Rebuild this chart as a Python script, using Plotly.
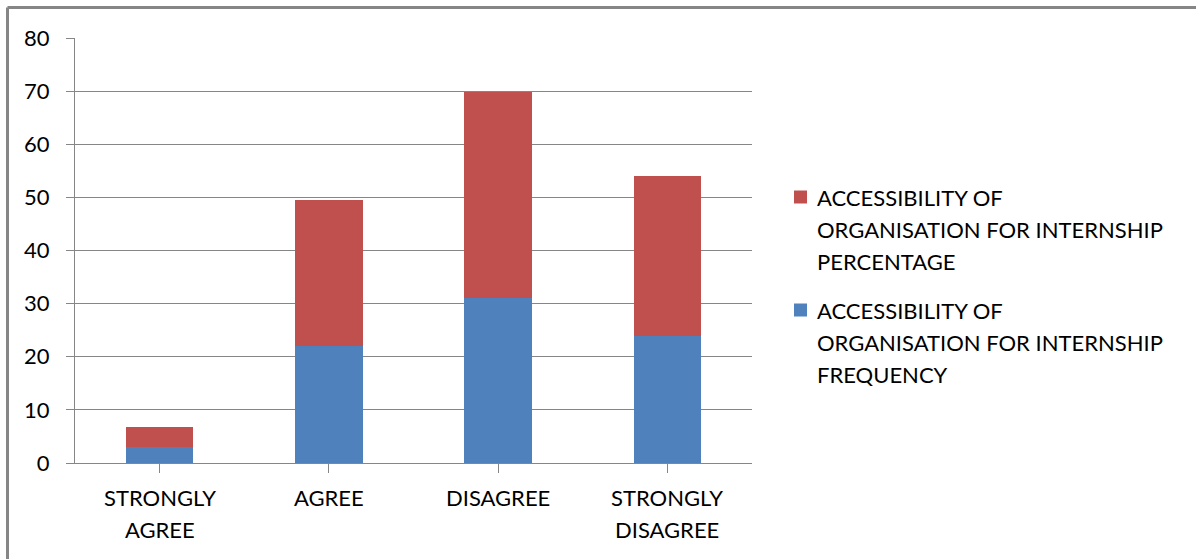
import plotly.graph_objects as go

# Survey responses: accessibility of organisation for internship
categories = ["STRONGLY<br>AGREE", "AGREE", "DISAGREE", "STRONGLY<br>DISAGREE"]
frequency = [3, 22, 31, 24]
percentage = [3.75, 27.5, 38.75, 30.0]

series_names = [
    "ACCESSIBILITY OF<br>ORGANISATION FOR INTERNSHIP<br>FREQUENCY",
    "ACCESSIBILITY OF<br>ORGANISATION FOR INTERNSHIP<br>PERCENTAGE",
]
series_colors = ["#4F81BD", "#C0504D"]
y_ticks = [0, 10, 20, 30, 40, 50, 60, 70, 80]

FONT = "Lato"
FSIZE = 22
GRID = "#868686"
x_idx = list(range(len(categories)))

# plot area in pixels: x 75..752, y 38..463
PW, PH = 677.0, 425.0


def px_x(px):
    return (px - 75) / PW


def px_y(py):
    return (463 - py) / PH


fig = go.Figure()
for vals, name, col in zip([frequency, percentage], series_names, series_colors):
    fig.add_trace(go.Bar(x=x_idx, y=vals, name=name, showlegend=False,
                         marker=dict(color=col, line=dict(width=0))))

annotations = []
shapes = []

# Category labels drawn line by line for wider line spacing
for i, cat in enumerate(categories):
    for j, line in enumerate(cat.split("<br>")):
        annotations.append(dict(
            x=i, y=0, xref="x", yref="y", text=line, showarrow=False,
            yshift=-34 - 32 * j, yanchor="middle", xanchor="center",
            font=dict(family=FONT, size=FSIZE, color="black")))

# Legend (percentage listed first), square swatch beside the first line
legend_tops = [197, 310]
for top, name, col in zip(legend_tops,
                          list(reversed(series_names)),
                          list(reversed(series_colors))):
    shapes.append(dict(type="rect", xref="paper", yref="paper",
                       x0=px_x(794), x1=px_x(807),
                       y0=px_y(top - 6.5), y1=px_y(top + 6.5),
                       fillcolor=col, line=dict(width=0)))
    for j, line in enumerate(name.split("<br>")):
        annotations.append(dict(
            x=px_x(815), y=px_y(top + 32 * j), xref="paper", yref="paper",
            text=line, showarrow=False, xanchor="left", yanchor="middle",
            font=dict(family=FONT, size=FSIZE, color="black")))

# Chart frame: top and left edges
shapes.append(dict(type="line", xref="paper", yref="paper",
                   x0=px_x(7.5), x1=px_x(1200), y0=px_y(7.5), y1=px_y(7.5),
                   line=dict(color=GRID, width=3)))
shapes.append(dict(type="line", xref="paper", yref="paper",
                   x0=px_x(7.5), x1=px_x(7.5), y0=px_y(7.5), y1=px_y(560),
                   line=dict(color=GRID, width=3)))

fig.update_layout(
    barmode="stack",
    bargap=0.6,
    width=1196, height=559,
    margin=dict(l=75, r=444, t=38, b=96),
    paper_bgcolor="white", plot_bgcolor="white",
    font=dict(family=FONT, size=FSIZE, color="black"),
    showlegend=False,
    xaxis=dict(
        range=[-0.5, 3.5],
        tickvals=x_idx, ticktext=["" for _ in x_idx],
        tickson="boundaries", ticks="outside", ticklen=9,
        tickcolor=GRID, tickwidth=1,
        showline=True, linecolor=GRID, linewidth=1,
        showgrid=False, zeroline=False,
    ),
    yaxis=dict(
        range=[0, 80], tickvals=y_ticks,
        ticks="outside", ticklen=8, tickcolor=GRID, tickwidth=1,
        showline=True, linecolor=GRID, linewidth=1,
        showgrid=True, gridcolor=GRID, gridwidth=1,
        zeroline=False, ticklabelstandoff=12,
        tickfont=dict(family=FONT, size=FSIZE, color="black"),
    ),
    annotations=annotations,
    shapes=shapes,
)

fig.write_html("out.html")
